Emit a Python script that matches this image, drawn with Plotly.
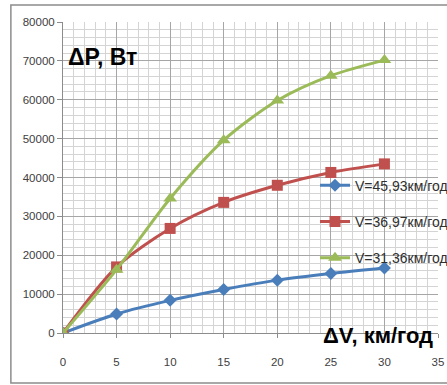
import plotly.graph_objects as go

# Speed increment ΔV, km/h
dv = [0, 5, 10, 15, 20, 25, 30]

# Power loss ΔP, W for each initial speed
p_4593 = [0, 4900, 8400, 11200, 13600, 15300, 16700]
p_3697 = [0, 17000, 26900, 33600, 38000, 41300, 43500]
p_3136 = [0, 16300, 34600, 49600, 59800, 66200, 70200]

names = ["V=45,93км/год", "V=36,97км/год", "V=31,36км/год"]
colors = ["#4A7EBB", "#C0504D", "#9BBB59"]
symbols = ["diamond", "square", "triangle-up"]
sizes = [10, 11, 12]

FONT = "Liberation Sans, Arial"

fig = go.Figure()
for i, ys in enumerate([p_4593, p_3697, p_3136]):
    fig.add_trace(go.Scatter(
        x=dv, y=ys, name=names[i], legendgroup=f"g{i}",
        mode="lines+markers",
        line=dict(color=colors[i], width=3, shape="spline", smoothing=0.8),
        marker=dict(symbol=symbols[i], size=sizes[i], color=colors[i]),
    ))

fig.update_layout(
    width=447, height=385,
    margin=dict(l=63, r=9, t=22, b=52, autoexpand=False),
    paper_bgcolor="white", plot_bgcolor="white",
    font=dict(family=FONT, color="#404040"),
    showlegend=True,
    legend=dict(
        x=0.672, y=0.525, xanchor="left", yanchor="top",
        bgcolor="rgba(0,0,0,0)", tracegroupgap=15,
        font=dict(family=FONT, size=14, color="#303030"),
        itemwidth=30,
    ),
)

fig.update_xaxes(
    range=[0, 35], dtick=5, tick0=0,
    showgrid=True, gridcolor="#A6A6A6", gridwidth=1,
    minor=dict(dtick=1, showgrid=True, gridcolor="#D4D4D4", gridwidth=1),
    showline=True, linecolor="#8C8C8C", linewidth=1,
    ticks="outside", ticklen=4, tickcolor="#8C8C8C",
    ticklabelstandoff=14,
    tickfont=dict(family=FONT, size=11.5, color="#404040"),
    zeroline=False,
)
fig.update_yaxes(
    range=[0, 80000], dtick=10000, tick0=0,
    tickformat="d",
    showgrid=True, gridcolor="#A6A6A6", gridwidth=1,
    minor=dict(dtick=2000, showgrid=True, gridcolor="#D4D4D4", gridwidth=1),
    showline=True, linecolor="#8C8C8C", linewidth=1,
    ticks="outside", ticklen=5, tickcolor="#8C8C8C",
    tickfont=dict(family=FONT, size=11.5, color="#404040"),
    zeroline=False,
)

# Axis captions placed inside the plotting area
fig.add_annotation(
    text="<b>ΔP, Вт</b>", xref="paper", yref="paper",
    x=0.104, y=0.887, xanchor="center", yanchor="middle", showarrow=False,
    font=dict(family=FONT, size=23, color="black"),
)
fig.add_annotation(
    text="<b>ΔV, км/год</b>", xref="paper", yref="paper",
    x=0.841, y=-0.008, xanchor="center", yanchor="middle", showarrow=False,
    font=dict(family=FONT, size=22, color="black"),
)

# Chart frame
fig.add_shape(
    type="rect", xref="paper", yref="paper",
    x0=-0.139, x1=1.1, y0=-0.161, y1=1.055,
    line=dict(color="#8C8C8C", width=1.5), fillcolor="rgba(0,0,0,0)",
    layer="below",
)

fig.write_html("out.html")
